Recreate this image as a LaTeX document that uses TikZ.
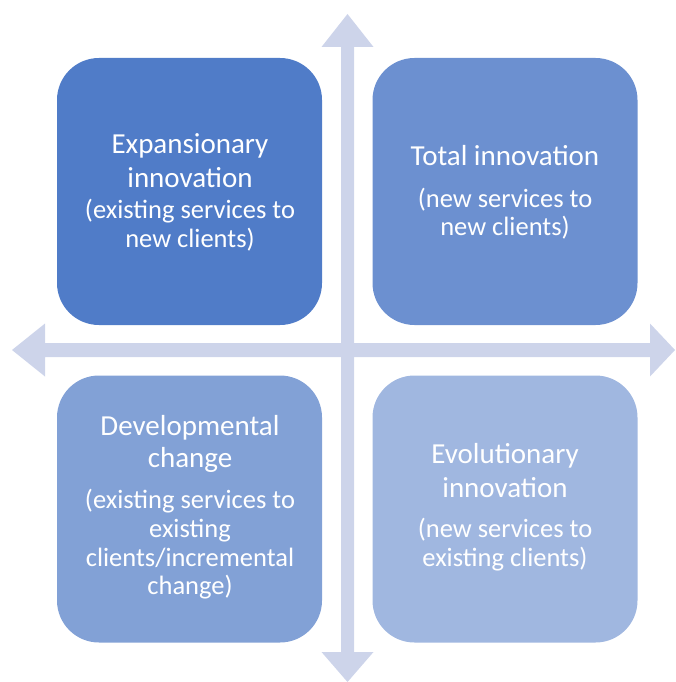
\documentclass[tikz,border=0pt]{standalone}
\usepackage{fontspec}
\setmainfont{Carlito}
\definecolor{cA}{RGB}{80,124,200}
\definecolor{cB}{RGB}{108,144,208}
\definecolor{cC}{RGB}{130,161,214}
\definecolor{cD}{RGB}{160,183,224}
\definecolor{axiscol}{RGB}{205,212,234}
\begin{document}
\begin{tikzpicture}[x=1pt,y=-1pt,
  quad/.style={rounded corners=42pt, minimum width=265pt, minimum height=267pt, inner sep=0pt, draw=none},
  ttl/.style={text=white, font=\fontsize{29}{33}\selectfont, anchor=base, inner sep=0pt},
  sub/.style={text=white, font=\fontsize{26.5}{29}\selectfont, anchor=base, inner sep=0pt}]
\useasboundingbox (0,0) rectangle (675,682);
% axes
\coordinate (vt) at (347.5,14);
\coordinate (vb) at (347.5,682);
\coordinate (hl) at (12,350);
\coordinate (hr) at (675,350);
\fill[axiscol] (vt) -- (373.5,47) -- (354,47) -- (354,652) -- (373.5,652) -- (vb)
  -- (321.5,652) -- (341,652) -- (341,47) -- (321.5,47) -- cycle;
\fill[axiscol] (hl) -- (45,323.5) -- (45,343) -- (650,343) -- (650,323.5) -- (hr)
  -- (650,376.5) -- (650,357) -- (45,357) -- (45,376.5) -- cycle;
% quadrants
\node[quad, fill=cA] (tl) at (189.5,191.5) {};
\node[quad, fill=cB] (tr) at (505,191.5) {};
\node[quad, fill=cC] (bl) at (189.5,509) {};
\node[quad, fill=cD] (br) at (505,509) {};
% texts
\node[ttl] (tl1) at (190,153) {Expansionary};
\node[ttl] (tl2) at (190,187) {innovation};
\node[sub] (tl3) at (190,218) {(existing services to};
\node[sub] (tl4) at (190,247) {new clients)};
\node[ttl] (tr1) at (505,165) {Total innovation};
\node[sub] (tr2) at (505,207) {(new services to};
\node[sub] (tr3) at (505,235) {new clients)};
\node[ttl] (bl1) at (190,435) {Developmental};
\node[ttl] (bl2) at (190,467) {change};
\node[sub] (bl3) at (190,508) {(existing services to};
\node[sub] (bl4) at (190,537) {existing};
\node[sub] (bl5) at (190,566) {clients/incremental};
\node[sub] (bl6) at (190,594) {change)};
\node[ttl] (br1) at (505,463) {Evolutionary};
\node[ttl] (br2) at (505,497) {innovation};
\node[sub] (br3) at (505,537) {(new services to};
\node[sub] (br4) at (505,566) {existing clients)};
\end{tikzpicture}
\end{document}
